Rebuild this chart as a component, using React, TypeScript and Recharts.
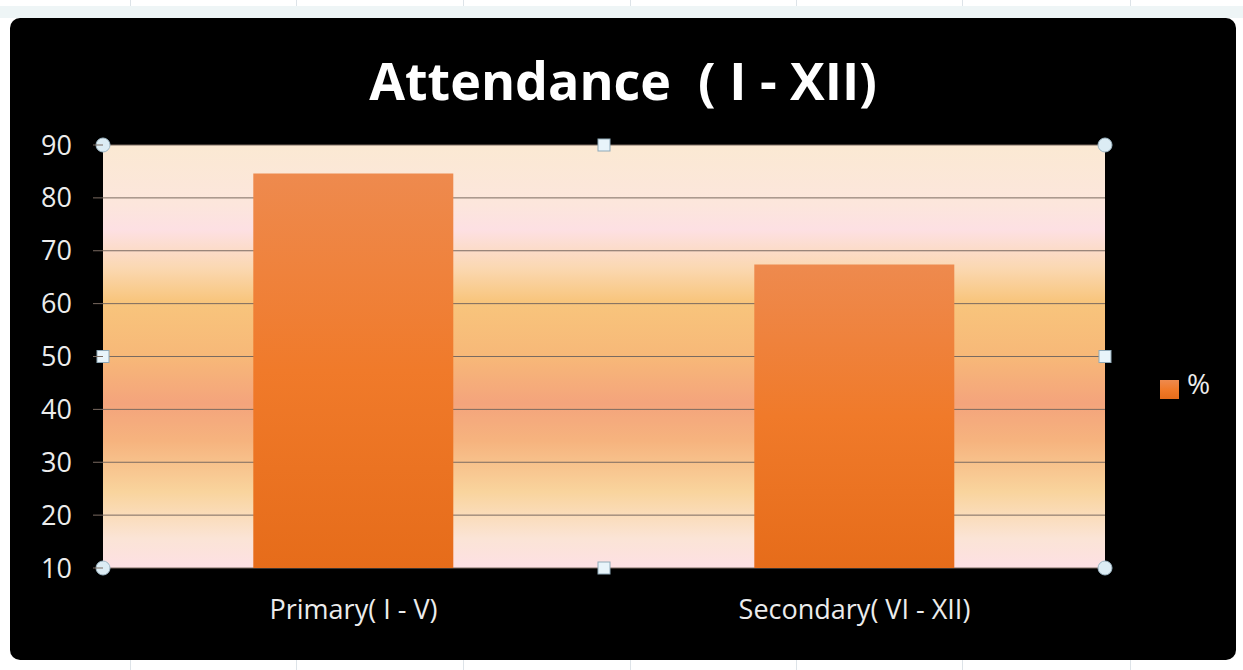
import { BarChart, Bar, XAxis, YAxis, CartesianGrid, Legend } from "recharts";

const categories = ["Primary( I - V)", "Secondary( VI - XII)"];
const attendance = [84.6, 67.4];
const seriesName = "%";
const yTicks = [10, 20, 30, 40, 50, 60, 70, 80, 90];

const data = categories.map((name, i) => ({ name, value: attendance[i] }));

const W = 1226;
const H = 642;
const margin = { top: 127, right: 131, bottom: 52, left: 0 };
const yAxisWidth = 93;
const xAxisHeight = 40;

// plot box, derived from the margins above (used only for the selection handles)
const px0 = margin.left + yAxisWidth;
const px1 = W - margin.right;
const py0 = margin.top;
const py1 = H - margin.bottom - xAxisHeight;
const pxm = (px0 + px1) / 2;
const pym = (py0 + py1) / 2;

const font = "'Open Sans', 'DejaVu Sans', sans-serif";

function Handle({ x, y, round }: { x: number; y: number; round?: boolean }) {
  return round ? (
    <circle cx={x} cy={y} r={7} fill="#dcecf4" stroke="#9fb8c6" strokeWidth={1} />
  ) : (
    <rect x={x - 6} y={y - 6} width={12} height={12} fill="#e8f4fa" stroke="#8fa9b8" strokeWidth={1} />
  );
}

export default function App() {
  const sheetLines = [130, 296, 463, 630, 796, 962, 1130];
  return (
    <div style={{ position: "relative", width: 1243, height: 670, background: "#ffffff", overflow: "hidden", fontFamily: font }}>
      <style>{`body{margin:0}`}</style>
      {sheetLines.map((x) => (
        <div key={x} style={{ position: "absolute", left: x, top: 0, width: 1, height: 670, background: "#dde3e8" }} />
      ))}
      <div style={{ position: "absolute", left: 0, top: 0, width: 1243, height: 6, borderBottom: "1px solid #dde3e8" }} />
      <div style={{ position: "absolute", left: 0, top: 6, width: 1243, height: 12, background: "#eef5f6" }} />
      <div
        style={{
          position: "absolute",
          left: 10,
          top: 18,
          width: W,
          height: H,
          background: "#000",
          borderRadius: 10,
        }}
      >
        <div
          style={{
            position: "absolute",
            left: 0,
            top: 28,
            width: W,
            textAlign: "center",
            color: "#fff",
            fontWeight: 700,
            fontSize: 52,
            lineHeight: "68px",
          }}
        >
          Attendance&nbsp; ( I - XII)
        </div>
        <BarChart width={W} height={H} data={data} margin={margin} barCategoryGap="30%">
          <defs>
            <linearGradient id="plotBg" x1="0" y1="0" x2="0" y2="1">
              <stop offset="0" stopColor="#fbe9d3" />
              <stop offset="0.14" stopColor="#fce6dc" />
              <stop offset="0.2" stopColor="#fde0e3" />
              <stop offset="0.29" stopColor="#fbd8b2" />
              <stop offset="0.37" stopColor="#f8c57c" />
              <stop offset="0.5" stopColor="#f7b878" />
              <stop offset="0.61" stopColor="#f4a47c" />
              <stop offset="0.7" stopColor="#f6b37e" />
              <stop offset="0.82" stopColor="#f9d49d" />
              <stop offset="0.93" stopColor="#fbe4d6" />
              <stop offset="1" stopColor="#fde0e4" />
            </linearGradient>
            <linearGradient id="barFill" x1="0" y1="0" x2="0" y2="1">
              <stop offset="0" stopColor="#ee8a4e" />
              <stop offset="0.5" stopColor="#f07a2a" />
              <stop offset="1" stopColor="#e66c1a" />
            </linearGradient>
          </defs>
          <CartesianGrid vertical={false} stroke="#7a6a60" fill="url(#plotBg)" fillOpacity={1} />
          <XAxis
            dataKey="name"
            height={xAxisHeight}
            axisLine={false}
            tickLine={false}
            tickSize={0}
            tickMargin={32}
            tick={{ fill: "#ececec", fontSize: 27, fontFamily: font }}
          />
          <YAxis
            width={yAxisWidth}
            domain={[10, 90]}
            ticks={yTicks}
            interval={0}
            axisLine={false}
            tickSize={10}
            tickMargin={21}
            tickLine={{ stroke: "#7a6a60" }}
            tick={{ fill: "#ececec", fontSize: 27, fontFamily: font }}
          />
          <Legend
            layout="horizontal"
            verticalAlign="middle"
            align="center"
            iconType="square"
            iconSize={19}
            wrapperStyle={{ left: 1150, top: 346, width: "auto" }}
            formatter={(v: string) => (
              <span style={{ color: "#ececec", fontSize: 28, fontFamily: font, marginLeft: 4 }}>{v}</span>
            )}
          />
          <Bar dataKey="value" name={seriesName} fill="url(#barFill)" isAnimationActive={false} />
          <g>
            <Handle x={px0} y={py0} round />
            <Handle x={pxm} y={py0} />
            <Handle x={px1} y={py0} round />
            <Handle x={px0} y={pym} />
            <Handle x={px1} y={pym} />
            <Handle x={px0} y={py1} round />
            <Handle x={pxm} y={py1} />
            <Handle x={px1} y={py1} round />
          </g>
        </BarChart>
      </div>
    </div>
  );
}
